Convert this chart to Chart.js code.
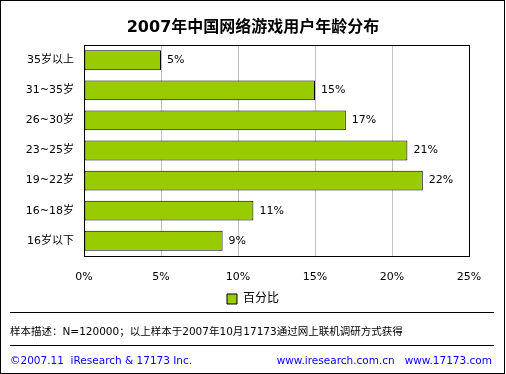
<!DOCTYPE html>
<html>
<head>
<meta charset="utf-8">
<script src="https://cdn.jsdelivr.net/npm/chart.js@4"></script>
<style>
  html, body { margin: 0; padding: 0; background: #fff; }
  #wrap { position: relative; width: 506px; height: 374px; overflow: hidden; }
  #frame { position: absolute; left: 0; top: 0; width: 503px; height: 372px; border: 1px solid #000; }
  #chartBox { position: absolute; left: 0; top: 0; width: 506px; height: 315px; }
  .rule { position: absolute; left: 10px; width: 484px; height: 0; border-top: 1px solid #000; }
  .txt { position: absolute; font-family: Tahoma, "DejaVu Sans", "Noto Sans CJK SC", sans-serif; font-size: 10.5px; white-space: nowrap; }
</style>
</head>
<body>
<div id="wrap">
  <div id="chartBox"><canvas id="myChart"></canvas></div>
  <div class="rule" style="top:312px"></div>
  <div class="txt" style="left:10px;top:323px;color:#000">样本描述：N=120000；以上样本于2007年10月17173通过网上联机调研方式获得</div>
  <div class="rule" style="top:345px"></div>
  <div class="txt" style="left:10px;top:354px;color:#0000ff">©2007.11&nbsp; iResearch &amp; 17173 Inc.</div>
  <div class="txt" style="right:14px;top:354px;color:#0000ff">www.iresearch.com.cn&nbsp;&nbsp; www.17173.com</div>
  <div id="frame"></div>
</div>
<script>
const labels = ['35岁以上', '31~35岁', '26~30岁', '23~25岁', '19~22岁', '16~18岁', '16岁以下']
const values = [5, 15, 17, 21, 22, 11, 9]
const xTicks = [0, 5, 10, 15, 20, 25]

const fontFam = 'Tahoma, "DejaVu Sans", "Noto Sans CJK SC", sans-serif'

// black frame round the plot area + value labels at bar ends
const plotFrame = {
    id: 'plotFrame',
    afterDraw(chart) {
        const ctx = chart.ctx
        const a = chart.chartArea
        ctx.save()
        ctx.strokeStyle = '#000'
        ctx.lineWidth = 1
        ctx.strokeRect(Math.round(a.left) + 0.5, Math.round(a.top) + 0.5, Math.round(a.right - a.left), Math.round(a.bottom - a.top))
        ctx.fillStyle = '#000'
        ctx.font = '11px ' + fontFam
        ctx.textBaseline = 'middle'
        chart.getDatasetMeta(0).data.forEach(function (bar, i) {
            ctx.fillText(values[i] + '%', bar.x + 6, bar.y)
        })
        ctx.restore()
    }
}

const ctx = document.getElementById('myChart')
const myChart = new Chart(ctx, {
    type: 'bar',
    data: {
        labels: labels,
        datasets: [{
            label: '百分比',
            data: values,
            backgroundColor: '#99cc00',
            borderColor: '#000',
            borderWidth: 1,
            borderSkipped: false,
            barPercentage: 0.66,
            categoryPercentage: 1.0
        }]
    },
    options: {
        indexAxis: 'y',
        responsive: true,
        maintainAspectRatio: false,
        animation: false,
        layout: { padding: { left: 0, right: 0, top: 0, bottom: 0 } },
        plugins: {
            title: {
                display: true,
                text: '2007年中国网络游戏用户年龄分布',
                color: '#000',
                font: { family: fontFam, size: 16, weight: 'bold' },
                padding: { top: 18, bottom: 8 }
            },
            legend: {
                position: 'bottom',
                labels: {
                    color: '#000',
                    font: { family: fontFam, size: 12 },
                    boxWidth: 10,
                    boxHeight: 10,
                    padding: 2
                }
            },
            tooltip: { enabled: false }
        },
        scales: {
            x: {
                min: 0,
                max: 25,
                afterBuildTicks: function (axis) {
                    axis.ticks = xTicks.map(function (v) { return { value: v } })
                },
                afterFit: function (axis) { axis.height -= 8 },
                ticks: {
                    color: '#000',
                    font: { family: fontFam, size: 11 },
                    padding: 15,
                    callback: function (v) { return v + '%' }
                },
                grid: { color: '#c0c0c0', drawTicks: false },
                border: { display: false }
            },
            y: {
                afterFit: function (axis) { axis.width = 84 },
                ticks: {
                    color: '#000',
                    font: { family: fontFam, size: 11 },
                    padding: 10
                },
                grid: { display: false, drawTicks: false },
                border: { display: false }
            },
            // empty axis on the right, only keeps the plot clear of the frame
            yRight: {
                type: 'category',
                position: 'right',
                afterFit: function (axis) { axis.width = 37 },
                ticks: { display: false },
                grid: { display: false, drawTicks: false },
                border: { display: false }
            }
        }
    },
    plugins: [plotFrame]
})
</script>
</body>
</html>
